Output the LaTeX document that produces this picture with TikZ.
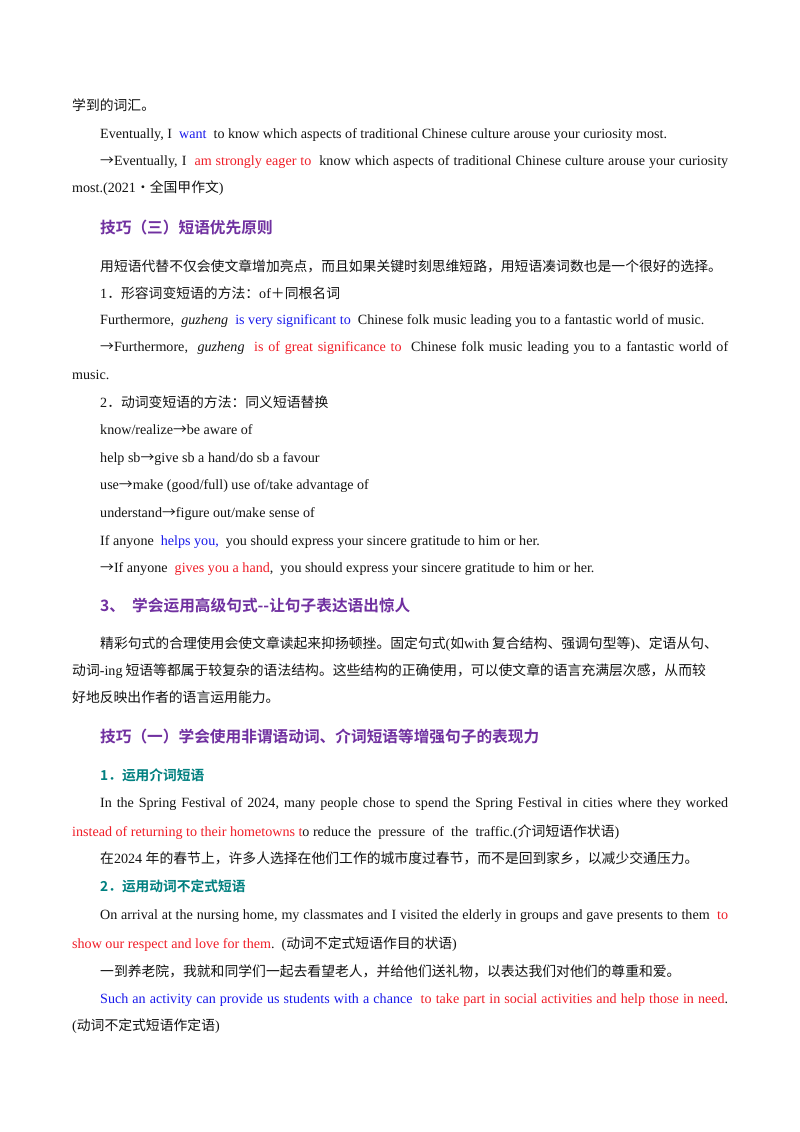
\documentclass[tikz,border=0pt]{standalone}
\usepackage{fontspec}
\setmainfont{Liberation Serif}
\newfontfamily\cjk{Noto Sans CJK SC}[BoldFont={Noto Sans CJK SC Bold},Scale=0.98]
\XeTeXlinebreaklocale "zh"
\XeTeXlinebreakskip=0pt plus 3pt
\definecolor{bl}{RGB}{25,25,235}
\definecolor{rd}{RGB}{240,30,40}
\definecolor{pu}{RGB}{112,48,160}
\definecolor{te}{RGB}{0,128,128}
\definecolor{tx}{RGB}{20,20,20}
\newcommand{\zh}[1]{{\cjk #1}}
\newcommand{\B}[1]{\textcolor{bl}{#1}}
\newcommand{\R}[1]{\textcolor{rd}{#1}}
\newcommand{\J}[2]{\makebox[#1][s]{#2}}
\newcommand{\ar}{{\cjk →}}
\tikzset{ln/.style={anchor=base west,inner sep=0pt,font=\fontsize{14.1}{16}\selectfont,text=tx},
 hd/.style={anchor=base west,inner sep=0pt,font=\fontsize{16}{18}\selectfont\cjk\bfseries,text=pu},
 sh/.style={anchor=base west,inner sep=0pt,font=\fontsize{14}{16}\selectfont\cjk\bfseries,text=te}}
\begin{document}
\begin{tikzpicture}[x=1pt,y=-1pt]
\useasboundingbox[fill=white] (0,0) rectangle (800,1132);
\node[ln] (l1) at (72,110) {\zh{学到的词汇。}};
\node[ln] (l2) at (100,138) {Eventually, I\ \ \B{want}\ \ to know which aspects of traditional Chinese culture arouse your curiosity most.};
\node[ln] (l3) at (100,165) {\J{628pt}{\ar Eventually, I\ \ \R{am strongly eager to}\ \ know which aspects of traditional Chinese culture arouse your curiosity}};
\node[ln] (l4) at (72,192) {most.(2021\zh{·全国甲作文})};
\node[hd] (h1) at (100,233) {技巧（三）短语优先原则};
\node[ln] (l6) at (100,271) {\J{628pt}{\zh{用短语代替不仅会使文章增加亮点，而且如果关键时刻思维短路，用短语凑词数也是一个很好的选择。}}};
\node[ln] (l7) at (100,298) {1\zh{．形容词变短语的方法：}of\zh{＋同根名词}};
\node[ln] (l8) at (100,324) {Furthermore,\ \ \textit{guzheng}\ \ \B{is very significant to}\ \ Chinese folk music leading you to a fantastic world of music.};
\node[ln] (l9) at (100,351) {\J{628pt}{\ar Furthermore,\ \ \textit{guzheng}\ \ \R{is of great significance to}\ \ Chinese folk music leading you to a fantastic world of}};
\node[ln] (l10) at (72,379) {music.};
\node[ln] (l11) at (100,407) {2\zh{．动词变短语的方法：同义短语替换}};
\node[ln] (l12) at (100,434) {know/realize\ar be aware of};
\node[ln] (l13) at (100,462) {help sb\ar give sb a hand/do sb a favour};
\node[ln] (l14) at (100,489) {use\ar make (good/full) use of/take advantage of};
\node[ln] (l15) at (100,517) {understand\ar figure out/make sense of};
\node[ln] (l16) at (100,545) {If anyone\ \ \B{helps you,}\ \ you should express your sincere gratitude to him or her.};
\node[ln] (l17) at (100,572) {\ar If anyone\ \ \R{gives you a hand},\ \ you should express your sincere gratitude to him or her.};
\node[hd] (h2) at (100,611) {3、\ \ 学会运用高级句式--让句子表达语出惊人};
\node[ln] (l19) at (100,648) {\J{628pt}{\zh{精彩句式的合理使用会使文章读起来抑扬顿挫。固定句式}(\zh{如}with\hspace{3pt}\zh{复合结构、强调句型等})\zh{、定语从句、}}};
\node[ln] (l20) at (72,675) {\J{656pt}{\zh{动词}-ing\hspace{3pt}\zh{短语等都属于较复杂的语法结构。这些结构的正确使用，可以使文章的语言充满层次感，从而较}}};
\node[ln] (l21) at (72,702) {\zh{好地反映出作者的语言运用能力。}};
\node[hd] (h3) at (100,742) {技巧（一）学会使用非谓语动词、介词短语等增强句子的表现力};
\node[sh] (s1) at (100,780) {1．运用介词短语};
\node[ln] (l24) at (100,807) {\J{628pt}{In the Spring Festival of 2024, many people chose to spend the Spring Festival in cities where they worked}};
\node[ln] (l25) at (72,836) {\R{instead of returning to their hometowns t}o reduce the\ \ pressure\ \ of\ \ the\ \ traffic.(\zh{介词短语作状语})};
\node[ln] (l26) at (100,863) {\zh{在}2024\ \zh{年的春节上，许多人选择在他们工作的城市度过春节，而不是回到家乡，以减少交通压力。}};
\node[sh] (s2) at (100,891) {2．运用动词不定式短语};
\node[ln] (l28) at (100,919) {\J{628pt}{On arrival at the nursing home, my classmates and I visited the elderly in groups and gave presents to them\ \ \R{to}}};
\node[ln] (l29) at (72,948) {\R{show our respect and love for them}.\ \ (\zh{动词不定式短语作目的状语})};
\node[ln] (l30) at (100,976) {\zh{一到养老院，我就和同学们一起去看望老人，并给他们送礼物，以表达我们对他们的尊重和爱。}};
\node[ln] (l31) at (100,1003) {\J{628pt}{\B{Such an activity can provide us students with a chance}\ \ \R{to take part in social activities and help those in need}.}};
\node[ln] (l32) at (72,1030) {(\zh{动词不定式短语作定语})};
\end{tikzpicture}
\end{document}
